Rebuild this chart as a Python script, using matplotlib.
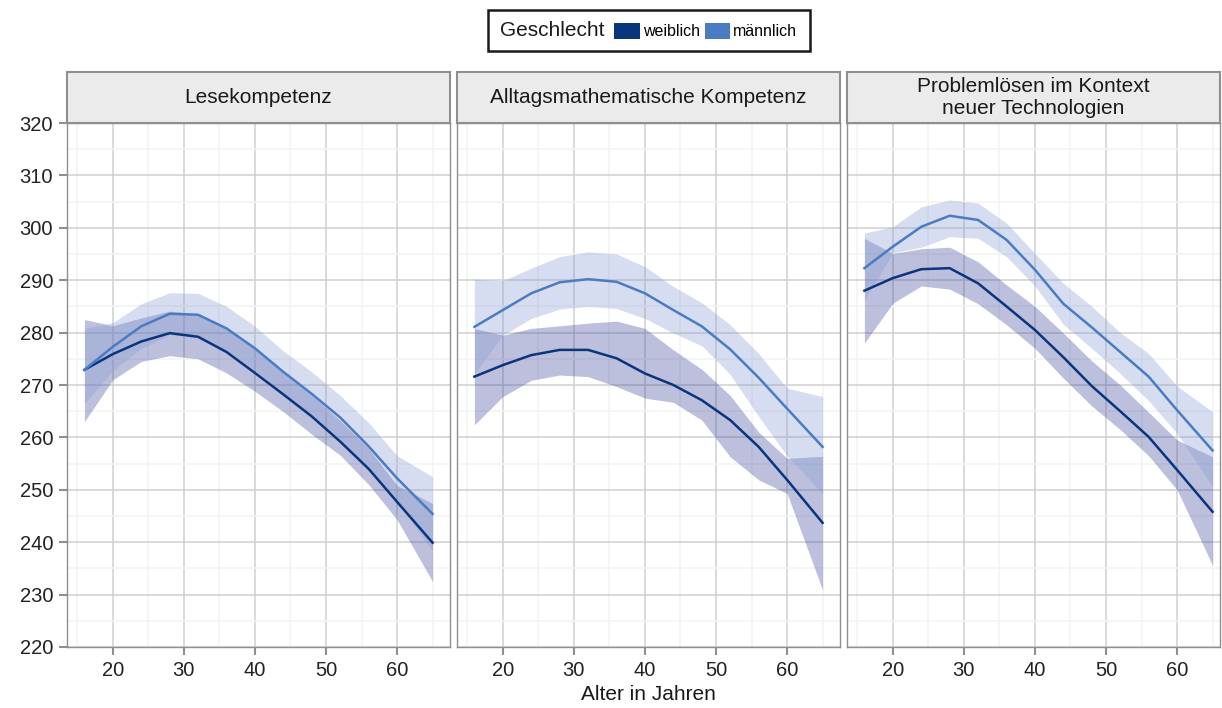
import matplotlib
matplotlib.use("Agg")
import matplotlib.pyplot as plt
from matplotlib.patches import Patch, Rectangle
from matplotlib.ticker import MultipleLocator

plt.rcParams['font.family'] = ['Liberation Sans', 'DejaVu Sans']

age = [16, 20, 24, 28, 32, 36, 40, 44, 48, 52, 56, 60, 65]
titles = ["Lesekompetenz", "Alltagsmathematische Kompetenz",
          "Problemlösen im Kontext\nneuer Technologien"]
groups = ["weiblich", "männlich"]

# Lesekompetenz
lese_w = [272.9, 275.9, 278.3, 279.9, 279.2, 276.3, 272.3, 268.2, 264.0, 259.2, 254.0, 247.7, 239.9]
lese_w_lo = [263.0, 271.0, 274.5, 275.6, 275.0, 272.3, 268.8, 264.9, 260.6, 256.6, 251.0, 244.3, 232.5]
lese_w_hi = [282.5, 281.3, 282.8, 284.1, 283.6, 281.0, 276.8, 272.3, 268.0, 263.2, 257.9, 250.8, 247.4]
lese_m = [272.9, 277.3, 281.2, 283.6, 283.4, 280.8, 277.0, 272.5, 268.3, 263.8, 258.3, 252.2, 245.4]
lese_m_lo = [266.5, 272.7, 277.0, 279.6, 279.3, 276.6, 272.8, 268.5, 264.1, 259.6, 253.8, 247.9, 238.3]
lese_m_hi = [280.8, 281.9, 285.5, 287.6, 287.5, 285.0, 281.2, 276.5, 272.5, 268.0, 262.8, 256.5, 252.5]

# Alltagsmathematische Kompetenz
mathe_w = [271.6, 273.8, 275.7, 276.7, 276.7, 275.1, 272.2, 270.0, 267.1, 263.3, 258.2, 251.9, 243.7]
mathe_w_lo = [262.4, 267.8, 270.9, 271.9, 271.6, 269.7, 267.5, 266.7, 263.3, 256.3, 251.9, 249.3, 230.9]
mathe_w_hi = [280.8, 279.5, 280.8, 281.3, 281.8, 282.2, 280.8, 276.7, 273.0, 268.0, 261.0, 256.0, 256.4]
mathe_m = [281.1, 284.3, 287.5, 289.6, 290.2, 289.7, 287.5, 284.3, 281.2, 276.8, 271.4, 265.5, 258.2]
mathe_m_lo = [272.2, 279.5, 282.7, 284.5, 285.0, 284.6, 282.7, 279.9, 277.5, 272.0, 264.0, 256.5, 249.3]
mathe_m_hi = [290.2, 289.9, 292.3, 294.5, 295.4, 295.0, 292.6, 288.8, 285.7, 281.5, 276.0, 269.4, 267.8]

# Problemlösen
pl_w = [288.0, 290.4, 292.1, 292.3, 289.4, 285.0, 280.5, 275.3, 269.8, 265.0, 260.1, 253.8, 245.8]
pl_w_lo = [278.0, 285.6, 288.9, 288.3, 285.5, 281.5, 277.0, 271.3, 266.0, 261.5, 256.5, 250.0, 235.6]
pl_w_hi = [298.0, 295.1, 296.0, 296.3, 293.5, 289.1, 285.0, 279.9, 274.6, 270.0, 264.8, 259.5, 256.3]
pl_m = [292.3, 296.4, 300.2, 302.3, 301.5, 297.7, 292.0, 285.5, 281.0, 276.3, 271.6, 265.2, 257.5]
pl_m_lo = [286.2, 295.2, 296.3, 298.3, 298.0, 294.5, 288.9, 281.6, 277.0, 272.2, 267.0, 260.8, 250.6]
pl_m_hi = [299.0, 300.2, 304.0, 305.3, 304.7, 300.9, 295.1, 289.4, 285.0, 280.0, 276.0, 269.8, 264.9]

panel_data = [
    (lese_w, lese_w_lo, lese_w_hi, lese_m, lese_m_lo, lese_m_hi),
    (mathe_w, mathe_w_lo, mathe_w_hi, mathe_m, mathe_m_lo, mathe_m_hi),
    (pl_w, pl_w_lo, pl_w_hi, pl_m, pl_m_lo, pl_m_hi),
]

line_w, line_m = "#08357d", "#4a7cc4"
fill_w, fill_m = "#3f4b9b", "#8a9ed4"
grid_major, grid_minor = "#cfcfcf", "#f3f3f3"
frame_col = "#8f8f8f"
text_col = "#1a1a1a"

W, H = 1222, 708
fig = plt.figure(figsize=(W / 100, H / 100), dpi=100)

lefts = [67, 457, 847]
widths = [383, 383, 373]
top, bottom = 123, 647
px_per_year = 383 / (67.45 - 13.55)

for i, (left, width) in enumerate(zip(lefts, widths)):
    ax = fig.add_axes([left / W, 1 - bottom / H, width / W, (bottom - top) / H])
    w, w_lo, w_hi, m, m_lo, m_hi = panel_data[i]
    ax.fill_between(age, w_lo, w_hi, color=fill_w, alpha=0.35, lw=0, zorder=2)
    ax.fill_between(age, m_lo, m_hi, color=fill_m, alpha=0.35, lw=0, zorder=2)
    ax.plot(age, w, color=line_w, lw=1.8, zorder=3, solid_joinstyle="round")
    ax.plot(age, m, color=line_m, lw=1.8, zorder=3, solid_joinstyle="round")

    ax.set_xlim(13.55, 13.55 + width / px_per_year)
    ax.set_ylim(220, 320)
    ax.xaxis.set_major_locator(MultipleLocator(10))
    ax.xaxis.set_minor_locator(MultipleLocator(5))
    ax.yaxis.set_major_locator(MultipleLocator(10))
    ax.yaxis.set_minor_locator(MultipleLocator(5))
    ax.grid(which="major", color=grid_major, lw=1.1, zorder=0)
    ax.grid(which="minor", color=grid_minor, lw=1.1, zorder=0)
    ax.set_axisbelow(True)
    for s in ax.spines.values():
        s.set_color(frame_col)
        s.set_linewidth(1.0)
    ax.tick_params(axis="both", which="major", length=6, width=1.5, color=frame_col,
                   labelsize=14.5, labelcolor="#222222", pad=4)
    ax.tick_params(which="minor", length=0)
    if i > 0:
        ax.tick_params(axis="y", which="both", left=False, labelleft=False)

    # strip
    sax = fig.add_axes([left / W, 1 - top / H, width / W, 51 / H])
    sax.set_facecolor("#ebebeb")
    sax.set_xticks([])
    sax.set_yticks([])
    for s in sax.spines.values():
        s.set_color(frame_col)
        s.set_linewidth(1.5)
    sax.text(0.5, 0.5, titles[i], ha="center", va="center", fontsize=15,
             color=text_col, transform=sax.transAxes, linespacing=1.15)

fig.text(648.5 / W, 1 - 695 / H, "Alter in Jahren", ha="center", va="center",
         fontsize=15, color=text_col)

# legend
fig.patches.append(Rectangle((488 / W, 1 - 51 / H), 322 / W, 41 / H,
                             transform=fig.transFigure, facecolor="white",
                             edgecolor=text_col, lw=1.8, zorder=5))
fig.text(500 / W, 1 - 31 / H, "Geschlecht", ha="left", va="center",
         fontsize=15, color=text_col, zorder=6)
handles = [Patch(facecolor=line_w, edgecolor="none"),
           Patch(facecolor=line_m, edgecolor="none")]
leg = fig.legend(handles, groups, loc="center left",
                 bbox_to_anchor=(614 / W, 1 - 31 / H), ncol=2, frameon=False,
                 fontsize=11.5, handlelength=1.6, handleheight=1.15,
                 handletextpad=0.2, columnspacing=0.3, borderpad=0,
                 borderaxespad=0)
leg.set_zorder(7)

fig.savefig("out.png", dpi=100)
